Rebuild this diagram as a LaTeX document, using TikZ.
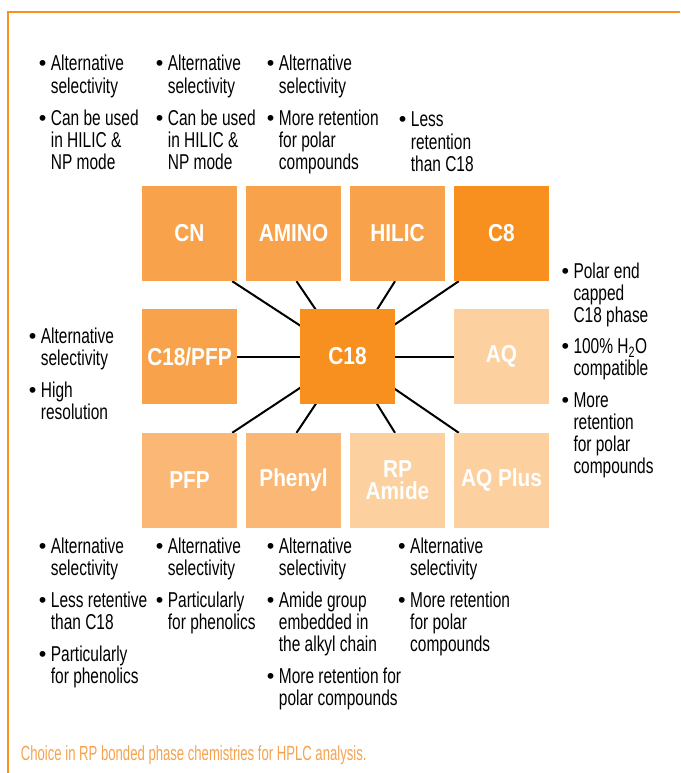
\documentclass[tikz,border=0pt]{standalone}
\usepackage{fontspec}
\setmainfont{Liberation Sans}[FakeStretch=0.72,BoldFeatures={FakeStretch=0.85}]
\newfontfamily\capfont{Liberation Sans}[FakeStretch=0.64]
\newfontfamily\bulfont{Liberation Sans}
\usetikzlibrary{backgrounds}
\definecolor{cdark}{HTML}{F7901E}
\definecolor{cmed}{HTML}{F8A34C}
\definecolor{clight}{HTML}{FAB776}
\definecolor{cpale}{HTML}{FDD09F}
\definecolor{ccap}{HTML}{F6A24E}
\newcommand\bx{\makebox[12pt][l]{\bulfont\textbullet}}
\newcommand\gp{\\[10pt]}
\newcommand\blk[1]{{\fontsize{21.5}{21.5}\selectfont\begin{tabular}[t]{@{}l@{}l@{}}#1\end{tabular}}}
\begin{document}
\begin{tikzpicture}[x=1pt,y=-1pt,
  phase/.style={minimum width=95pt,minimum height=95pt,inner sep=0pt,text=white,
    font=\fontsize{24.5}{22}\selectfont\bfseries,align=center},
  notes/.style={anchor=base west,inner sep=0pt,text=black},
  link/.style={line width=2pt,black}]
\useasboundingbox (0,0) rectangle (680,773);
\draw[cdark,line width=2.5pt] (680,12) -- (8,12) -- (8,773);

% boxes
\node[phase,fill=cmed] (cn) at (189.5,233.5) {CN};
\node[phase,fill=cmed] (amino) at (293.5,233.5) {AMINO};
\node[phase,fill=cmed] (hilic) at (397.5,233.5) {HILIC};
\node[phase,fill=cdark] (c8) at (501.5,233.5) {C8};
\node[phase,fill=cmed] (c18pfp) at (189.5,356.5) {C18/PFP};
\node[phase,fill=cdark] (c18) at (347.5,356.5) {C18};
\node[phase,fill=cpale] (aq) at (501.5,356.5) {AQ};
\node[phase,fill=clight] (pfp) at (189.5,480.5) {PFP};
\node[phase,fill=clight] (phenyl) at (293.5,480.5) {Phenyl};
\node[phase,fill=cpale] (rpa) at (397.5,480.5) {RP\\Amide};
\node[phase,fill=cpale] (aqp) at (501.5,480.5) {AQ Plus};

\begin{scope}[on background layer]
\draw[link] (c18.center) -- ([xshift=-5pt]cn.south east);
\draw[link] (c18.center) -- ([xshift=3pt]amino.south);
\draw[link] (c18.center) -- ([xshift=-2.5pt]hilic.south);
\draw[link] (c18.center) -- ([xshift=5pt]c8.south west);
\draw[link] (c18.center) -- ([xshift=-5pt]pfp.north east);
\draw[link] (c18.center) -- ([xshift=3pt]phenyl.north);
\draw[link] (c18.center) -- ([xshift=-2.5pt]rpa.north);
\draw[link] (c18.center) -- ([xshift=5pt]aqp.north west);
\draw[link] (c18pfp) -- (c18);
\draw[link] (c18) -- (aq);
\end{scope}

% notes top
\node[notes] (t1) at (38.7,71) {\blk{\bx & Alternative\\ & selectivity\gp
  \bx & Can be used\\ & in HILIC \&\\ & NP mode}};
\node[notes] (t2) at (155.7,71) {\blk{\bx & Alternative\\ & selectivity\gp
  \bx & Can be used\\ & in HILIC \&\\ & NP mode}};
\node[notes] (t3) at (266.7,71) {\blk{\bx & Alternative\\ & selectivity\gp
  \bx & More retention\\ & for polar\\ & compounds}};
\node[notes] (t4) at (398.7,127) {\blk{\bx & Less\\ & retention\\ & than C18}};
% left and right
\node[notes] (l1) at (28.7,343.3) {\blk{\bx & Alternative\\ & selectivity\gp
  \bx & High\\ & resolution}};
\node[notes] (r1) at (561.3,278.3) {\blk{\bx & Polar end\\ & capped\\ & C18 phase\gp
  \bx & 100\% H\textsubscript{2}O\\ & compatible\gp
  \bx & More\\ & retention\\ & for polar\\ & compounds}};
% bottom
\node[notes] (b1) at (38.7,553.3) {\blk{\bx & Alternative\\ & selectivity\gp
  \bx & Less retentive\\ & than C18\gp
  \bx & Particularly\\ & for phenolics}};
\node[notes] (b2) at (155.7,553.3) {\blk{\bx & Alternative\\ & selectivity\gp
  \bx & Particularly\\ & for phenolics}};
\node[notes] (b3) at (266.7,553.3) {\blk{\bx & Alternative\\ & selectivity\gp
  \bx & Amide group\\ & embedded in\\ & the alkyl chain\gp
  \bx & More retention for\\ & polar compounds}};
\node[notes] (b4) at (398,553.3) {\blk{\bx & Alternative\\ & selectivity\gp
  \bx & More retention\\ & for polar\\ & compounds}};

\node[anchor=base west,inner sep=0pt,text=ccap,font=\capfont\fontsize{20.5}{21}\selectfont] (cap) at (20.7,760.7)
  {Choice in RP bonded phase chemistries for HPLC analysis.};
\end{tikzpicture}
\end{document}
